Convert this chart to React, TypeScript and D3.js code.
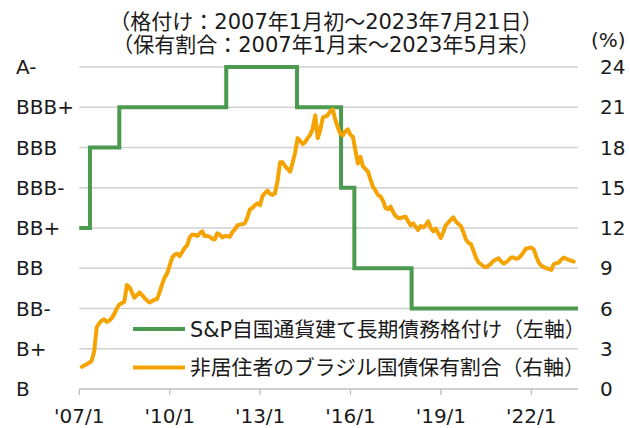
import React, { useEffect, useRef } from "react";
import * as d3 from "d3";

// left axis: S&P local-currency long-term rating
const ratings = ["B", "B+", "BB-", "BB", "BB+", "BBB-", "BBB", "BBB+", "A-"];
const ratingDates = [
  "2007-01-01",
  "2007-05-10",
  "2008-04-30",
  "2011-11-17",
  "2014-03-24",
  "2015-09-09",
  "2016-02-17",
  "2018-01-11",
  "2023-07-21",
];
const ratingSteps = ["BB+", "BBB", "BBB+", "A-", "BBB+", "BBB-", "BB", "BB-", "BB-"];

// right axis: share of non-resident holders (%), month-end Jan 2007 - May 2023
const shareStart = [2007, 0];
const shareValues = [
  1.65, 1.75, 1.85, 1.95, 2.1, 2.8, 4.6, 4.9, 5.1, 5.2, 5.0, 5.1, // 2007
  5.3, 5.6, 6.0, 6.3, 6.4, 6.5, 7.75, 7.6, 7.2, 6.8, 7.0, 7.2, // 2008
  7.0, 6.8, 6.6, 6.45, 6.55, 6.65, 6.7, 7.2, 7.8, 8.3, 8.6, 9.2, // 2009
  9.8, 10.0, 10.1, 9.9, 10.2, 10.5, 10.7, 11.3, 11.5, 11.5, 11.4, 11.6, // 2010
  11.75, 11.4, 11.4, 11.35, 11.2, 11.15, 11.6, 11.5, 11.3, 11.4, 11.38, 11.35, // 2011
  11.7, 11.9, 12.2, 12.25, 12.3, 12.35, 12.8, 13.4, 13.5, 13.7, 13.84, 13.7, // 2012
  14.4, 14.6, 14.78, 14.55, 14.46, 14.6, 15.5, 16.9, 16.9, 16.6, 16.4, 16.2, // 2013
  16.9, 17.6, 18.7, 18.5, 18.25, 18.4, 18.7, 18.95, 19.4, 20.4, 18.7, 19.3, // 2014
  20.25, 20.3, 20.4, 20.7, 20.85, 20.1, 19.5, 19.05, 18.9, 19.2, 19.35, 18.95, // 2015
  18.8, 17.8, 16.8, 17.3, 16.6, 16.4, 16.2, 15.6, 15.07, 14.8, 14.46, 14.35, // 2016
  14.0, 13.5, 13.4, 13.6, 13.2, 12.9, 12.75, 12.75, 12.8, 12.84, 12.5, 12.2, // 2017
  12.35, 12.1, 11.85, 12.15, 12.05, 12.2, 12.5, 12.0, 11.75, 11.95, 11.6, 11.25, // 2018
  11.7, 12.2, 12.4, 12.6, 12.8, 12.5, 12.3, 12.15, 11.7, 11.15, 10.9, 10.8, // 2019
  10.3, 9.8, 9.45, 9.3, 9.15, 9.07, 9.2, 9.35, 9.55, 9.65, 9.74, 9.5, // 2020
  9.35, 9.45, 9.6, 9.8, 9.8, 9.7, 9.75, 9.95, 10.2, 10.48, 10.5, 10.55, // 2021
  10.4, 9.9, 9.45, 9.2, 9.1, 9.0, 8.95, 8.87, 9.3, 9.38, 9.42, 9.65, // 2022
  9.8, 9.7, 9.62, 9.56, 9.5, // 2023
];

const rightTicks = [0, 3, 6, 9, 12, 15, 18, 21, 24];
const xTickYears = [2007, 2010, 2013, 2016, 2019, 2022];

const titleLines = [
  "（格付け：2007年1月初～2023年7月21日）",
  "（保有割合：2007年1月末～2023年5月末）",
];
const legendItems = [
  { label: "S&P自国通貨建て長期債務格付け（左軸）", color: "#4b9a4f" },
  { label: "非居住者のブラジル国債保有割合（右軸）", color: "#f5a300" },
];

const FONT = "'DejaVu Sans', Verdana, 'Noto Sans CJK JP', sans-serif";

const App = () => {
  const ref = useRef<SVGSVGElement>(null);

  useEffect(() => {
    const svg = d3.select(ref.current);
    svg.selectAll("*").remove();

    const left = 79.3;
    const right = 578;
    const top = 67;
    const bottom = 389;

    const x = d3
      .scaleTime()
      .domain([new Date(2007, 0, 1), new Date(2023, 6, 21)])
      .range([left, right]);
    const yRating = d3
      .scaleLinear()
      .domain([0, ratings.length - 1])
      .range([bottom, top]);
    const yShare = d3.scaleLinear().domain([0, 24]).range([bottom, top]);

    const g = svg.append("g").style("font-family", FONT);

    // gridlines
    g.selectAll(".grid")
      .data(ratings)
      .enter()
      .append("line")
      .attr("x1", left)
      .attr("x2", right)
      .attr("y1", (d, i) => yRating(i))
      .attr("y2", (d, i) => yRating(i))
      .attr("stroke", (d, i) => (i === 0 ? "#bfbfbf" : "#d0d0d0"))
      .attr("stroke-width", 1.3);

    // x ticks
    const tickDates = xTickYears.map((yr) => new Date(yr, 0, 1));
    g.selectAll(".xtick")
      .data(tickDates)
      .enter()
      .append("line")
      .attr("x1", (d) => x(d))
      .attr("x2", (d) => x(d))
      .attr("y1", bottom)
      .attr("y2", bottom + 6)
      .attr("stroke", "#bfbfbf")
      .attr("stroke-width", 1.3);

    g.selectAll(".xlabel")
      .data(tickDates)
      .enter()
      .append("text")
      .attr("x", (d) => x(d))
      .attr("y", 423)
      .attr("text-anchor", "middle")
      .style("font-size", "20px")
      .attr("fill", "#1a1a1a")
      .text((d) => d3.timeFormat("'%y/%-m")(d));

    // left labels
    g.selectAll(".ylabel")
      .data(ratings)
      .enter()
      .append("text")
      .attr("x", 16)
      .attr("y", (d, i) => yRating(i))
      .attr("dy", "0.36em")
      .style("font-size", "20px")
      .attr("fill", "#1a1a1a")
      .text((d) => d);

    // right labels
    g.selectAll(".y2label")
      .data(rightTicks)
      .enter()
      .append("text")
      .attr("x", 600)
      .attr("y", (d) => yShare(d))
      .attr("dy", "0.36em")
      .style("font-size", "20px")
      .attr("fill", "#1a1a1a")
      .text((d) => d);

    g.append("text")
      .attr("x", 591)
      .attr("y", 47)
      .style("font-size", "20px")
      .attr("fill", "#1a1a1a")
      .text("(%)");

    // title
    g.selectAll(".title")
      .data(titleLines)
      .enter()
      .append("text")
      .attr("x", 326)
      .attr("y", (d, i) => 29 + i * 22.5)
      .attr("text-anchor", "middle")
      .style("font-size", "21px")
      .attr("fill", "#1a1a1a")
      .text((d) => d);

    // rating step line
    const ratingData = ratingDates.map((d, i) => ({
      date: d3.timeParse("%Y-%m-%d")(d) as Date,
      idx: ratings.indexOf(ratingSteps[i]),
    }));
    const stepLine = d3
      .line<{ date: Date; idx: number }>()
      .x((d) => x(d.date))
      .y((d) => yRating(d.idx))
      .curve(d3.curveStepAfter);
    g.append("path")
      .datum(ratingData)
      .attr("d", stepLine)
      .attr("fill", "none")
      .attr("stroke", legendItems[0].color)
      .attr("stroke-width", 4);

    // share line
    const shareData = shareValues.map((v, k) => ({
      date: new Date(shareStart[0], shareStart[1] + k + 1, 0),
      v,
    }));
    const shareLine = d3
      .line<{ date: Date; v: number }>()
      .x((d) => x(d.date))
      .y((d) => yShare(d.v));
    g.append("path")
      .datum(shareData)
      .attr("d", shareLine)
      .attr("fill", "none")
      .attr("stroke", legendItems[1].color)
      .attr("stroke-width", 4)
      .attr("stroke-linejoin", "round")
      .attr("stroke-linecap", "round");

    // legend
    const legend = g
      .selectAll(".legend")
      .data(legendItems)
      .enter()
      .append("g")
      .attr("transform", (d, i) => `translate(0,${329 + i * 38.5})`);
    legend
      .append("line")
      .attr("x1", 133)
      .attr("x2", 185)
      .attr("stroke", (d) => d.color)
      .attr("stroke-width", 4);
    legend
      .append("text")
      .attr("x", 190)
      .attr("dy", "0.36em")
      .style("font-size", "20.8px")
      .attr("fill", "#1a1a1a")
      .text((d) => d.label);

    return () => {
      svg.selectAll("*").remove();
    };
  }, []);

  return (
    <svg
      ref={ref}
      width={630}
      height={428}
      style={{ position: "absolute", left: 0, top: 0, background: "#fff" }}
    ></svg>
  );
};

export default App;
